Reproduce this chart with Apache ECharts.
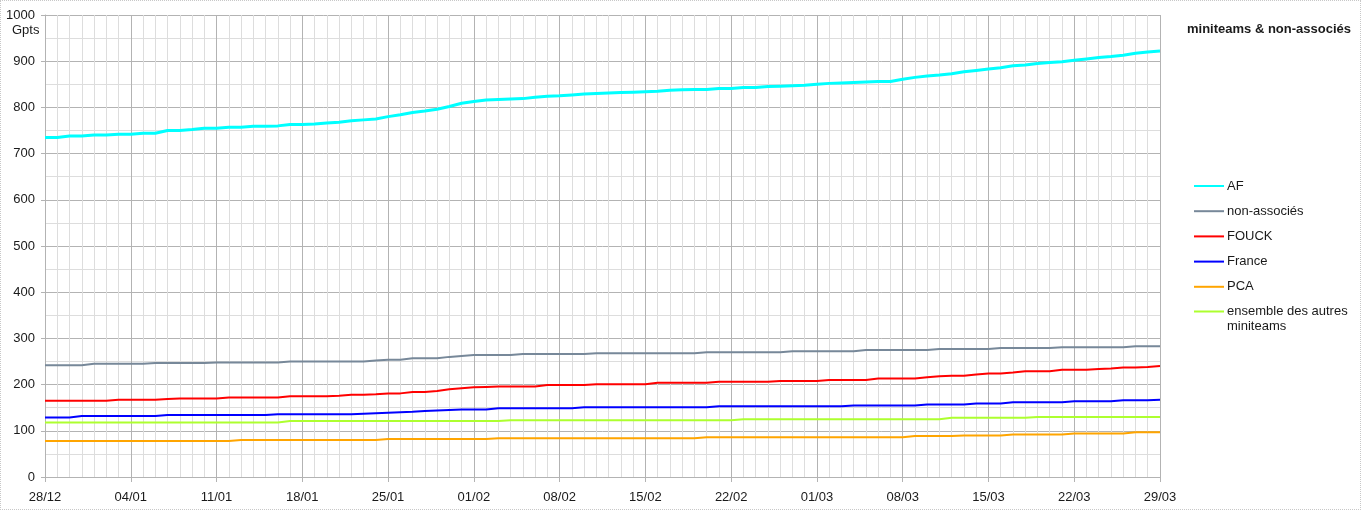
<!DOCTYPE html>
<html>
<head>
<meta charset="utf-8">
<script src="https://cdn.jsdelivr.net/npm/echarts@6/dist/echarts.min.js"></script>
<style>
html,body{margin:0;padding:0;background:#fff;}
#chart{width:1361px;height:510px;position:relative;}
#frame{position:absolute;left:0;top:0;width:1359px;height:508px;border:1px dotted #c8c8c8;pointer-events:none;}
</style>
</head>
<body>
<div id="chart"></div>
<div id="frame"></div>
<script>
// x tick labels: one every 7 days, day 0 = 28/12, day 91 = 29/03
const tickLabels = ['28/12','04/01','11/01','18/01','25/01','01/02','08/02','15/02','22/02','01/03','08/03','15/03','22/03','29/03'];
const seriesNames = ['AF','non-associés','FOUCK','France','PCA','ensemble des autres miniteams'];

// daily values (Gpts), day 0 .. day 91
const AF = [
735,735,738,738,740,740,742,742,744,744,
750,750,752,755,755,757,757,759,759,760,
763,763,764,766,768,771,773,775,780,784,
789,792,796,802,809,813,816,817,818,819,
822,824,825,827,829,830,831,832,833,834,
835,837,838,839,839,841,841,843,843,845,
846,847,848,850,852,853,854,855,856,856,
861,865,868,870,873,877,880,883,886,890,
892,895,897,899,902,905,908,910,913,917,
920,922];
const nonAssocies = [
242,242,242,242,245,245,245,245,245,247,
247,247,247,247,248,248,248,248,248,248,
250,250,250,250,250,250,250,252,254,254,
257,257,257,260,262,264,264,264,264,266,
266,266,266,266,266,268,268,268,268,268,
268,268,268,268,270,270,270,270,270,270,
270,272,272,272,272,272,272,275,275,275,
275,275,275,277,277,277,277,277,279,279,
279,279,279,281,281,281,281,281,281,283,
283,283];
const FOUCK = [
165,165,165,165,165,165,167,167,167,167,
169,170,170,170,170,172,172,172,172,172,
175,175,175,175,176,178,178,179,181,181,
184,184,186,190,192,194,195,196,196,196,
196,199,199,199,199,201,201,201,201,201,
204,204,204,204,204,206,206,206,206,206,
208,208,208,208,210,210,210,210,213,213,
213,213,216,218,219,219,222,224,224,226,
229,229,229,232,232,232,234,235,237,237,
238,240];
const France = [
129,129,129,132,132,132,132,132,132,132,
134,134,134,134,134,134,134,134,134,136,
136,136,136,136,136,136,137,138,139,140,
141,143,144,145,146,146,146,149,149,149,
149,149,149,149,151,151,151,151,151,151,
151,151,151,151,151,153,153,153,153,153,
153,153,153,153,153,153,155,155,155,155,
155,155,157,157,157,157,159,159,159,162,
162,162,162,162,164,164,164,164,166,166,
166,167];
const PCA = [
78,78,78,78,78,78,78,78,78,78,
78,78,78,78,78,78,80,80,80,80,
80,80,80,80,80,80,80,80,82,82,
82,82,82,82,82,82,82,84,84,84,
84,84,84,84,84,84,84,84,84,84,
84,84,84,84,86,86,86,86,86,86,
86,86,86,86,86,86,86,86,86,86,
86,89,89,89,89,90,90,90,90,92,
92,92,92,92,94,94,94,94,94,97,
97,97];
const autres = [
118,118,118,118,118,118,118,118,118,118,
118,118,118,118,118,118,118,118,118,118,
121,121,121,121,121,121,121,121,121,121,
121,121,121,121,121,121,121,121,123,123,
123,123,123,123,123,123,123,123,123,123,
123,123,123,123,123,123,123,125,125,125,
125,125,125,125,125,125,125,125,125,125,
125,125,125,125,128,128,128,128,128,128,
128,130,130,130,130,130,130,130,130,130,
130,130];

const seriesValues = [AF, nonAssocies, FOUCK, France, PCA, autres];
const colors = ['#00ffff','#778899','#ff0000','#0000ff','#ffa500','#adff2f'];
const widths = [3, 2, 2, 2, 2, 2];

const FONT = "'Liberation Sans', Arial, sans-serif";
const TXT = '#1a1a1a';

const chart = echarts.init(document.getElementById('chart'), null, {renderer:'canvas'});
const legendCommon = {
  orient: 'vertical', left: 1193, padding: 0,
  itemWidth: 30, itemHeight: 14,
  itemStyle: {opacity: 0, borderWidth: 0},
  textStyle: {fontFamily: FONT, fontSize: 13, color: TXT, lineHeight: 15, padding: [0, 0, 0, -2]}
};
const option = {
  animation: false,
  backgroundColor: '#ffffff',
  textStyle: {fontFamily: FONT},
  title: {
    text: 'miniteams & non-associés',
    left: 1187, top: 22.5, padding: 0,
    textStyle: {fontFamily: FONT, fontSize: 13, fontWeight: 'bold', color: TXT}
  },
  legend: [
    Object.assign({}, legendCommon, {
      top: 178.5, itemGap: 10.2,
      data: seriesNames.slice(0, 5)
    }),
    Object.assign({}, legendCommon, {
      top: 289,
      data: [seriesNames[5]],
      formatter: function (n) { return ' \nensemble des autres\nminiteams'; }
    })
  ],
  grid: {left: 45, right: 201, top: 15, bottom: 33, containLabel: false},
  xAxis: {
    type: 'value', min: 0, max: 91, interval: 7,
    axisLine: {show: true, lineStyle: {color: '#b3b3b3', width: 1}},
    axisTick: {show: true, length: 5, lineStyle: {color: '#b3b3b3'}},
    axisLabel: {
      margin: 14, fontFamily: FONT, fontSize: 13, color: TXT,
      formatter: function (v) { return tickLabels[Math.round(v / 7)]; }
    },
    splitLine: {show: true, lineStyle: {color: '#b3b3b3', width: 1}},
    minorTick: {show: false, splitNumber: 7},
    minorSplitLine: {show: true, lineStyle: {color: '#dddddd', width: 1}}
  },
  yAxis: {
    type: 'value', min: 0, max: 1000, interval: 100,
    axisLine: {show: true, lineStyle: {color: '#b3b3b3', width: 1}},
    axisTick: {show: true, length: 4, lineStyle: {color: '#b3b3b3'}},
    axisLabel: {
      margin: 10, fontFamily: FONT, fontSize: 13, color: TXT,
      formatter: function (v) { return String(v); }
    },
    splitLine: {show: true, lineStyle: {color: '#b3b3b3', width: 1}},
    minorTick: {show: false, splitNumber: 2},
    minorSplitLine: {show: true, lineStyle: {color: '#dddddd', width: 1}}
  },
  graphic: [
    {type: 'text', left: 12, top: 24,
     style: {text: 'Gpts', fill: TXT, font: "13px 'Liberation Sans', Arial, sans-serif"}}
  ],
  series: seriesNames.map(function (name, k) {
    return {
      name: name, type: 'line', symbol: 'none',
      data: seriesValues[k].map(function (v, i) { return [i, v]; }),
      lineStyle: {color: colors[k], width: widths[k]},
      itemStyle: {color: colors[k]},
      z: 10 - k
    };
  })
};
chart.setOption(option);
</script>
</body>
</html>
